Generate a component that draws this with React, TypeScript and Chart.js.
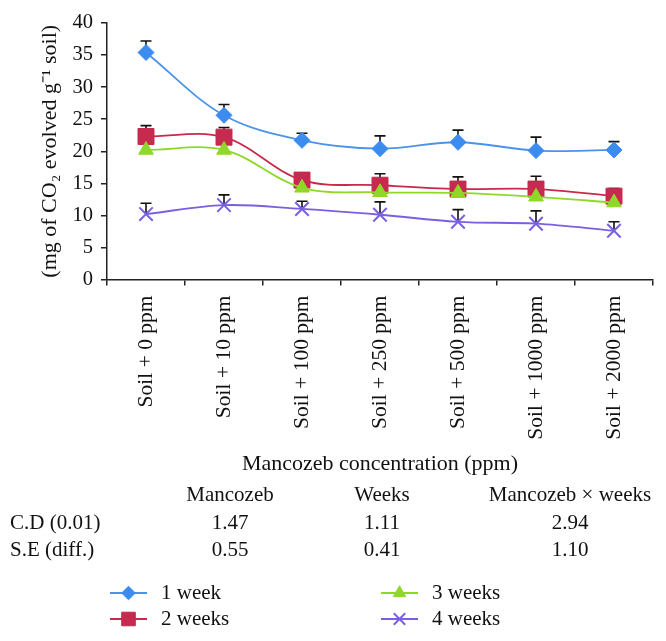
import React, { useEffect, useRef } from 'react';
import Chart from 'chart.js/auto';
import { drawPoint } from 'chart.js/helpers';

const categories = ['Soil + 0 ppm', 'Soil + 10 ppm', 'Soil + 100 ppm', 'Soil + 250 ppm', 'Soil + 500 ppm', 'Soil + 1000 ppm', 'Soil + 2000 ppm'];
const seriesNames = ['1 week', '2 weeks', '3 weeks', '4 weeks'];
const week1 = [35.4, 25.6, 21.7, 20.4, 21.4, 20.1, 20.2];
const week1Err = [1.8, 1.7, 1.1, 2.0, 1.9, 2.1, 1.3];
const week2 = [22.3, 22.2, 15.5, 14.7, 14.1, 14.1, 13.0];
const week2Err = [1.7, 1.5, 0.8, 1.8, 1.9, 2.0, 1.2];
const week3 = [20.2, 20.2, 14.3, 13.6, 13.5, 12.9, 12.0];
const week3Err: number[] = [];
const week4 = [10.2, 11.6, 11.0, 10.1, 9.0, 8.7, 7.6];
const week4Err = [1.7, 1.6, 1.2, 2.0, 1.9, 2.0, 1.4];

const tableHeaders = ['Mancozeb', 'Weeks', 'Mancozeb × weeks'];
const tableRowLabels = ['C.D (0.01)', 'S.E (diff.)'];
const cdValues = ['1.47', '1.11', '2.94'];
const seValues = ['0.55', '0.41', '1.10'];

const FONT = "'Liberation Serif', 'Times New Roman', serif";

const errorBarPlugin = {
  id: 'errorBars',
  beforeDatasetsDraw(chart: any) {
    const ctx = chart.ctx;
    const y = chart.scales.y;
    ctx.save();
    ctx.strokeStyle = '#111';
    ctx.lineWidth = 1.6;
    chart.data.datasets.forEach((ds: any, i: number) => {
      const meta = chart.getDatasetMeta(i);
      const errs: number[] = ds.errors || [];
      meta.data.forEach((pt: any, j: number) => {
        const e = errs[j];
        if (e == null) return;
        const v = ds.data[j];
        const y0 = y.getPixelForValue(v);
        const y1 = y.getPixelForValue(v + e);
        ctx.beginPath();
        ctx.moveTo(pt.x, y0);
        ctx.lineTo(pt.x, y1);
        ctx.moveTo(pt.x - 5.5, y1);
        ctx.lineTo(pt.x + 5.5, y1);
        ctx.stroke();
      });
    });
    ctx.restore();
  },
};

const extrasPlugin = {
  id: 'extras',
  afterDraw(chart: any) {
    const ctx = chart.ctx;
    ctx.save();
    ctx.fillStyle = '#111';
    ctx.textBaseline = 'middle';
    ctx.font = `21px ${FONT}`;
    const colX = [230, 382, 570];
    const rowY = [495, 523, 550];
    ctx.textAlign = 'center';
    tableHeaders.forEach((h, i) => ctx.fillText(h, colX[i], rowY[0]));
    ctx.textAlign = 'left';
    tableRowLabels.forEach((l, i) => ctx.fillText(l, 10, rowY[i + 1]));
    ctx.textAlign = 'center';
    cdValues.forEach((v, i) => ctx.fillText(v, colX[i], rowY[1]));
    seValues.forEach((v, i) => ctx.fillText(v, colX[i], rowY[2]));

    // legend
    const legendPos = [
      { x: 110, y: 593 },
      { x: 110, y: 619 },
      { x: 381, y: 593 },
      { x: 381, y: 619 },
    ];
    chart.data.datasets.forEach((ds: any, i: number) => {
      const p = legendPos[i];
      ctx.strokeStyle = ds.borderColor;
      ctx.lineWidth = 1.8;
      ctx.beginPath();
      ctx.moveTo(p.x, p.y);
      ctx.lineTo(p.x + 37, p.y);
      ctx.stroke();
      ctx.fillStyle = ds.pointBackgroundColor;
      ctx.strokeStyle = ds.pointBorderColor;
      ctx.lineWidth = ds.pointBorderWidth;
      drawPoint(ctx, { pointStyle: ds.pointStyle, radius: ds.pointRadius * 0.85, rotation: 0, borderWidth: ds.pointBorderWidth }, p.x + 18.5, p.y);
      ctx.fillStyle = '#111';
      ctx.textAlign = 'left';
      ctx.font = `21px ${FONT}`;
      ctx.fillText(ds.label, p.x + 51, p.y);
    });
    ctx.restore();
  },
};

export default function App() {
  const ref = useRef<HTMLCanvasElement>(null);
  useEffect(() => {
    const canvas = ref.current!;
    const mk = (label: string, data: number[], errors: number[], line: string, fill: string, style: string, radius: number, bw: number, order: number) => ({
      label,
      data,
      errors,
      borderColor: line,
      backgroundColor: fill,
      pointBackgroundColor: fill,
      pointBorderColor: style === 'crossRot' ? line : fill,
      pointBorderWidth: bw,
      pointStyle: style,
      pointRadius: radius,
      pointHoverRadius: radius,
      borderWidth: 1.8,
      tension: 0.35,
      fill: false,
      order,
    });
    const chart = new Chart(canvas, {
      type: 'line',
      data: {
        labels: categories,
        datasets: [
          mk(seriesNames[0], week1, week1Err, '#4b93ea', '#3c8cf0', 'rectRot', 8, 1, 1),
          mk(seriesNames[1], week2, week2Err, '#c62a4c', '#c62a4e', 'rect', 11.3, 1, 4),
          mk(seriesNames[2], week3, week3Err, '#8fd829', '#8fd829', 'triangle', 8.5, 1, 3),
          mk(seriesNames[3], week4, week4Err, '#7a5fe2', '#7a5fe2', 'crossRot', 9.5, 2, 2),
        ],
      },
      options: {
        animation: false,
        responsive: false,
        layout: { padding: { left: 0, top: 23, right: 13, bottom: 163.5 } },
        plugins: { legend: { display: false }, tooltip: { enabled: false } },
        scales: {
          x: {
            type: 'category',
            offset: true,
            grid: { display: true, offset: true, drawOnChartArea: false, drawTicks: true, tickLength: 6, color: '#222', lineWidth: 1.5 },
            border: { display: true, color: '#222', width: 1.5 },
            ticks: { autoSkip: false, maxRotation: 90, minRotation: 90, padding: 10, color: '#111', font: { family: FONT, size: 21.5 } },
            title: { display: true, text: 'Mancozeb concentration (ppm)', color: '#111', font: { family: FONT, size: 22 }, padding: { top: 0, bottom: 0 } },
            afterFit: (s: any) => { s.height = 198; },
          },
          y: {
            min: 0,
            max: 40,
            ticks: { stepSize: 5, padding: 8, color: '#111', font: { family: FONT, size: 20.5 } },
            grid: { display: true, drawOnChartArea: false, drawTicks: true, tickLength: 6, color: '#222', lineWidth: 1.5 },
            border: { display: true, color: '#222', width: 1.5 },
            title: { display: true, text: '(mg of CO₂ evolved g⁻¹ soil)', color: '#111', font: { family: FONT, size: 22 }, padding: { top: 37, bottom: 0 } },
            afterFit: (s: any) => { s.width = 107; },
          },
        },
      },
      plugins: [errorBarPlugin, extrasPlugin],
    } as any);
    return () => chart.destroy();
  }, []);
  return (
    <div style={{ position: 'absolute', left: 0, top: 0, width: 666, height: 641, background: '#fff' }}>
      <canvas ref={ref} width={666} height={641} style={{ display: 'block' }} />
    </div>
  );
}
